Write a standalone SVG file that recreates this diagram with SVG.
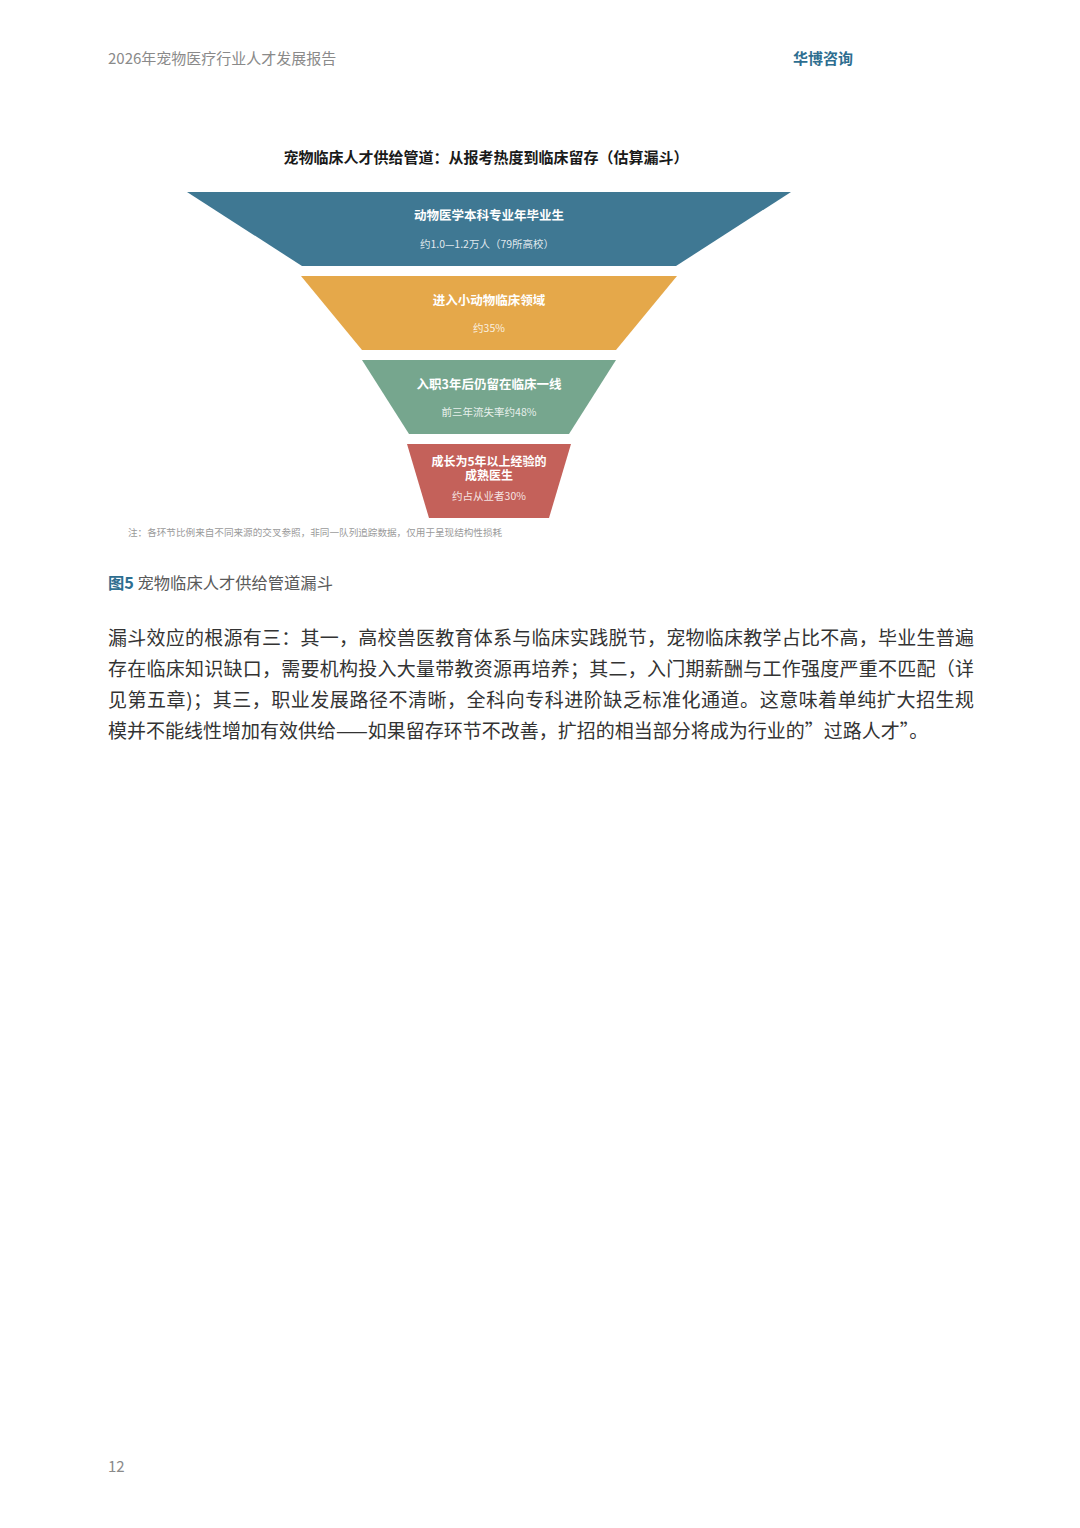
<svg xmlns="http://www.w3.org/2000/svg" width="1080" height="1528" viewBox="0 0 1080 1528">
<style>
text{font-family:"Noto Sans CJK SC","Noto Sans",sans-serif}
.hdr{font-size:15px;fill:#8a8a8a}
.brand{font-size:15px;font-weight:700;fill:#2e6e90}
.title{font-size:15px;font-weight:700;fill:#1a1a1a}
.lbl{font-size:12.5px;font-weight:700;fill:#ffffff}
.lbl2{font-size:12px;font-weight:700;fill:#ffffff}
.sub{font-size:10.5px;fill:#ffffff;fill-opacity:0.85}
.note{font-size:9.6px;fill:#9a9a9a}
.cap{font-size:16.3px;fill:#5a5a5a}
.capb{font-weight:700;fill:#2e6e90}
.body{font-size:19px;fill:#333333}
.pg{font-size:15px;fill:#8a8a8a}
</style>
<rect width="1080" height="1528" fill="#ffffff"/>
<text class="hdr" x="108" y="64">2026年宠物医疗行业人才发展报告</text>
<text class="brand" x="853" y="64" text-anchor="end">华博咨询</text>
<text class="title" x="486" y="163" text-anchor="middle">宠物临床人才供给管道：从报考热度到临床留存（估算漏斗）</text>
<g id="stage1">
<polygon points="187,192 791,192 676,266 302,266" fill="#3f7893"/>
<text class="lbl" x="489" y="220" text-anchor="middle">动物医学本科专业年毕业生</text>
<text class="sub" x="487" y="248" text-anchor="middle">约1.0—1.2万人（79所高校）</text>
</g>
<g id="stage2">
<polygon points="301,276 677,276 616,350 362,350" fill="#e5a84a"/>
<text class="lbl" x="489" y="305" text-anchor="middle">进入小动物临床领域</text>
<text class="sub" x="489" y="332" text-anchor="middle">约35%</text>
</g>
<g id="stage3">
<polygon points="362,360 616,360 569,434 409,434" fill="#76a68e"/>
<text class="lbl" x="489" y="389" text-anchor="middle">入职3年后仍留在临床一线</text>
<text class="sub" x="489" y="416" text-anchor="middle">前三年流失率约48%</text>
</g>
<g id="stage4">
<polygon points="407,444 571,444 549,518 429,518" fill="#c4615a"/>
<text class="lbl2" x="489" y="466" text-anchor="middle">成长为5年以上经验的</text>
<text class="lbl2" x="489" y="480" text-anchor="middle">成熟医生</text>
<text class="sub" x="489" y="500" text-anchor="middle">约占从业者30%</text>
</g>
<g id="connectors"></g>
<text class="note" x="128" y="536">注：各环节比例来自不同来源的交叉参照，非同一队列追踪数据，仅用于呈现结构性损耗</text>
<text class="cap" x="108" y="589"><tspan class="capb">图5</tspan> 宠物临床人才供给管道漏斗</text>
<text class="body" x="108" y="645" textLength="866" lengthAdjust="spacing">漏斗效应的根源有三：其一，高校兽医教育体系与临床实践脱节，宠物临床教学占比不高，毕业生普遍</text>
<text class="body" x="108" y="676" textLength="866" lengthAdjust="spacing">存在临床知识缺口，需要机构投入大量带教资源再培养；其二，入门期薪酬与工作强度严重不匹配（详</text>
<text class="body" x="108" y="707" textLength="866" lengthAdjust="spacing">见第五章)；其三，职业发展路径不清晰，全科向专科进阶缺乏标准化通道。这意味着单纯扩大招生规</text>
<text class="body" x="108" y="738">模并不能线性增加有效供给——如果留存环节不改善，扩招的相当部分将成为行业的”过路人才”。</text>
<text class="pg" x="108" y="1472">12</text>
</svg>
